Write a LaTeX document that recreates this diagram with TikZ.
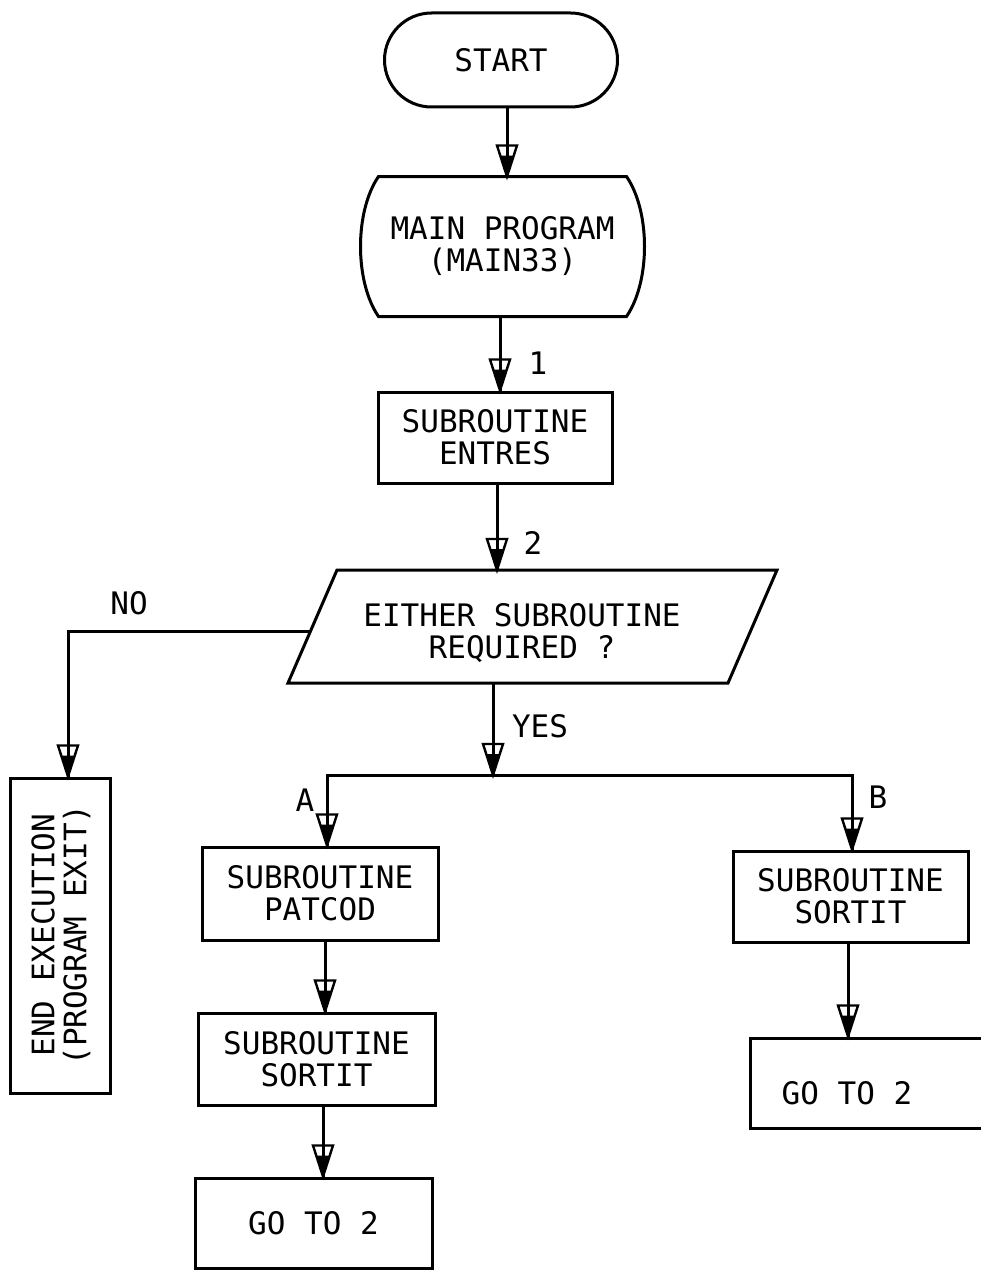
\documentclass[tikz,border=0pt]{standalone}
\usepackage{fontspec}
\newfontfamily\lettering{DejaVu Sans Mono}
\usetikzlibrary{calc,decorations.markings,shapes.misc}
\begin{document}
\begin{tikzpicture}[x=1pt,y=-1pt,line width=3pt,
  every node/.style={font=\lettering\fontsize{31}{32}\selectfont,inner sep=0pt,align=center},
  box/.style={draw,rectangle},
  flow/.style={draw,postaction={decorate},
    decoration={markings,mark=at position 1 with {
      \draw[line width=2.4pt,line join=miter] (0,0) -- (-31,10) -- (-31,-10) -- cycle;
      \fill (0,0) -- (-21,6.8) -- (-21,-6.8) -- cycle;}}}]
\useasboundingbox (0,0) rectangle (981,1271);
\fill[white] (0,0) rectangle (981,1271);

% nodes
\node[rounded rectangle,draw,minimum width=233pt,minimum height=94pt] (start) at (501,60) {START};
\node[minimum width=245pt,minimum height=137pt] (main) at (502.5,246.5) {MAIN PROGRAM\\(MAIN33)};
\draw (main.north west) -- (main.north east)
  .. controls ($(main.north east)+(24,35)$) and ($(main.south east)+(24,-35)$) .. (main.south east)
  -- (main.south west)
  .. controls ($(main.south west)+(-24,-35)$) and ($(main.north west)+(-24,35)$) .. cycle;
\node[box,minimum width=234pt,minimum height=91pt] (entres) at (495,437.5) {SUBROUTINE\\ENTRES};

\coordinate (pTL) at (337,570);
\coordinate (pTR) at (777,570);
\coordinate (pBR) at (728,683);
\coordinate (pBL) at (288,683);
\coordinate (pL) at (310,631);
\draw[line join=miter] (pTL) -- (pTR) -- (pBR) -- (pBL) -- cycle;
\node (para) at (522,633) {EITHER SUBROUTINE\\REQUIRED ?};

\node[box,minimum width=100pt,minimum height=315pt] (endx) at (60,935.5) {};
\node[rotate=90] (endxt) at (61,935) {END EXECUTION\\(PROGRAM EXIT)};
\node[box,minimum width=236pt,minimum height=93pt] (patcod) at (320,893.5) {SUBROUTINE\\PATCOD};
\node[box,minimum width=237pt,minimum height=92pt] (sorta) at (316.5,1059) {SUBROUTINE\\SORTIT};
\node[box,minimum width=237pt,minimum height=90pt] (gotoa) at (313.5,1223) {GO TO 2};
\node[box,minimum width=235pt,minimum height=91pt] (sortb) at (850.5,896.5) {SUBROUTINE\\SORTIT};
\node[box,minimum width=260pt,minimum height=90pt] (gotob) at (880,1083) {};
\node (gotobt) at (847,1093) {GO TO 2};

% column coordinates
\coordinate (c0) at (507,0);
\coordinate (c1) at (500,0);
\coordinate (c2) at (497,0);
\coordinate (jn) at (493,775);
\coordinate (jA) at (327,775);
\coordinate (jB) at (852,775);
\coordinate (noC) at (68,631);
\coordinate (c3) at (325,0);
\coordinate (c4) at (323,0);
\coordinate (c5) at (848,0);

% connectors
\draw[flow] (start.south -| c0) -- (main.north -| c0);
\draw[flow] (main.south -| c1) -- (entres.north -| c1);
\draw[flow] (entres.south -| c2) -- (c2 |- pTL);
\draw[flow,line join=miter] (pL) -- (noC) -- (noC |- endx.north);
\draw[flow] (jn |- pBL) -- (jn);
\draw[line cap=rect] (jA) -- (jB);
\draw[flow] (jA) -- (jA |- patcod.north);
\draw[flow] (jB) -- (jB |- sortb.north);
\draw[flow] (patcod.south -| c3) -- (sorta.north -| c3);
\draw[flow] (sorta.south -| c4) -- (gotoa.north -| c4);
\draw[flow] (sortb.south -| c5) -- (gotob.north -| c5);

% labels
\node (l1) at (538,363) {1};
\node (l2) at (533,543) {2};
\node (lno) at (129,603) {NO};
\node (lyes) at (540,726) {YES};
\node (la) at (305,800) {A};
\node (lb) at (878,797) {B};
\end{tikzpicture}
\end{document}
